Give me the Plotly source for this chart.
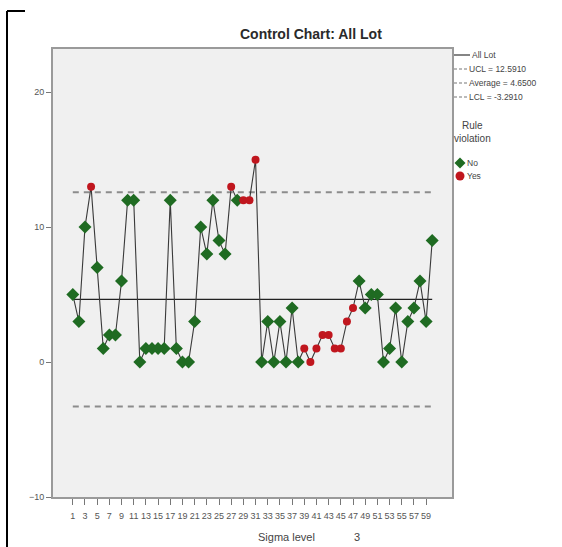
import plotly.graph_objects as go

# Lot measurements in sample order
lots = list(range(1, 61))
values = [5, 3, 10, 13, 7, 1, 2, 2, 6, 12,
          12, 0, 1, 1, 1, 1, 12, 1, 0, 0,
          3, 10, 8, 12, 9, 8, 13, 12, 12, 12,
          15, 0, 3, 0, 3, 0, 4, 0, 1, 0,
          1, 2, 2, 1, 1, 3, 4, 6, 4, 5,
          5, 0, 1, 4, 0, 3, 4, 6, 3, 9]
# 1 = a control rule was violated at this sample
violation = [0, 0, 0, 1, 0, 0, 0, 0, 0, 0,
             0, 0, 0, 0, 0, 0, 0, 0, 0, 0,
             0, 0, 0, 0, 0, 0, 1, 0, 1, 1,
             1, 0, 0, 0, 0, 0, 0, 0, 1, 1,
             1, 1, 1, 1, 1, 1, 1, 0, 0, 0,
             0, 0, 0, 0, 0, 0, 0, 0, 0, 0]
ucl = 12.591
average = 4.65
lcl = -3.291
x_ticks = list(range(1, 60, 2))
y_ticks = [-10, 0, 10, 20]
sigma_level = 3

GREEN = "#1f6b22"
RED = "#c0161e"
FONT = "Liberation Sans, Arial, sans-serif"
NARROW = "Liberation Sans Narrow, Liberation Sans, Arial, sans-serif"

W, H = 562, 547
L, R, T, B = 53, 452, 49, 497


def px(xp):
    return (xp - L) / (R - L)


def py(yp):
    return (B - yp) / (B - T)


fig = go.Figure()

# control limits and centre line span the sampled lots
fig.add_trace(go.Scatter(x=[lots[0], lots[-1]], y=[ucl, ucl], mode="lines",
                         line=dict(color="#8c8c8c", width=2, dash="6px,5px"),
                         hoverinfo="skip", showlegend=False))
fig.add_trace(go.Scatter(x=[lots[0], lots[-1]], y=[lcl, lcl], mode="lines",
                         line=dict(color="#8c8c8c", width=2, dash="6px,5px"),
                         hoverinfo="skip", showlegend=False))
fig.add_trace(go.Scatter(x=[lots[0], lots[-1]], y=[average, average], mode="lines",
                         line=dict(color="#222222", width=1.3),
                         hoverinfo="skip", showlegend=False))

# the series line
fig.add_trace(go.Scatter(x=lots, y=values, mode="lines",
                         line=dict(color="#3a3a3a", width=1.1),
                         showlegend=False))

# markers: green diamonds for no violation, red circles for violations
ok_x = [x for x, v in zip(lots, violation) if not v]
ok_y = [y for y, v in zip(values, violation) if not v]
bad_x = [x for x, v in zip(lots, violation) if v]
bad_y = [y for y, v in zip(values, violation) if v]
fig.add_trace(go.Scatter(x=ok_x, y=ok_y, mode="markers",
                         marker=dict(symbol="diamond", size=10, color=GREEN,
                                     line=dict(width=0)),
                         showlegend=False))
fig.add_trace(go.Scatter(x=bad_x, y=bad_y, mode="markers",
                         marker=dict(symbol="circle", size=8, color=RED,
                                     line=dict(width=0)),
                         showlegend=False))

shapes = []
annotations = []

# legend: line samples
leg_rows = [("All Lot", 55, "solid", "#333333"),
            (f"UCL = {ucl:.4f}", 69, "dash", "#777777"),
            (f"Average = {average:.4f}", 83, "dash", "#777777"),
            (f"LCL = {lcl:.4f}", 97, "dash", "#777777")]
for text, yy, dash, col in leg_rows:
    if dash == "solid":
        shapes.append(dict(type="line", xref="paper", yref="paper",
                           x0=px(454), x1=px(470), y0=py(yy), y1=py(yy),
                           line=dict(color=col, width=1.2)))
    else:
        shapes.append(dict(type="line", xref="paper", yref="paper",
                           x0=px(454), x1=px(467), y0=py(yy), y1=py(yy),
                           line=dict(color=col, width=1.2, dash="3px,2px")))
    annotations.append(dict(text=text, xref="paper", yref="paper",
                            x=px(470 if dash == "solid" else 467), y=py(yy),
                            xanchor="left", yanchor="middle", showarrow=False,
                            font=dict(family=NARROW, size=8.5, color="#444444")))

annotations.append(dict(text="Rule<br>violation", xref="paper", yref="paper",
                        x=px(472), y=py(132), xanchor="center", yanchor="middle",
                        showarrow=False, align="center",
                        font=dict(family=NARROW, size=10, color="#444444")))

# legend: rule violation markers
cx, cy, r = 460, 163, 5.5
shapes.append(dict(type="path", xref="paper", yref="paper",
                   path=(f"M {px(cx - r)} {py(cy)} L {px(cx)} {py(cy - r)} "
                         f"L {px(cx + r)} {py(cy)} L {px(cx)} {py(cy + r)} Z"),
                   fillcolor=GREEN, line=dict(width=0)))
cx, cy, r = 460, 176, 4.5
shapes.append(dict(type="circle", xref="paper", yref="paper",
                   x0=px(cx - r), x1=px(cx + r), y0=py(cy + r), y1=py(cy - r),
                   fillcolor=RED, line=dict(width=0)))
for text, yy in [("No", 163), ("Yes", 176)]:
    annotations.append(dict(text=text, xref="paper", yref="paper",
                            x=px(465), y=py(yy), xanchor="left", yanchor="middle",
                            showarrow=False,
                            font=dict(family=NARROW, size=8.5, color="#444444")))

# title and footer
annotations.append(dict(text="<b>Control Chart: All Lot</b>", xref="paper", yref="paper",
                        x=px(311), y=py(34), xanchor="center", yanchor="middle",
                        showarrow=False,
                        font=dict(family=FONT, size=14, color="#2a2a2a")))
annotations.append(dict(text="Sigma level", xref="paper", yref="paper",
                        x=px(286), y=py(537), xanchor="center", yanchor="middle",
                        showarrow=False,
                        font=dict(family=NARROW, size=11, color="#444444")))
annotations.append(dict(text=str(sigma_level), xref="paper", yref="paper",
                        x=px(357), y=py(537), xanchor="center", yanchor="middle",
                        showarrow=False,
                        font=dict(family=NARROW, size=11, color="#444444")))

# outer black frame pieces
shapes.append(dict(type="line", xref="paper", yref="paper",
                   x0=px(7), x1=px(7), y0=py(11), y1=py(547),
                   line=dict(color="black", width=2)))
shapes.append(dict(type="line", xref="paper", yref="paper",
                   x0=px(7), x1=px(25), y0=py(11), y1=py(11),
                   line=dict(color="black", width=2)))

fig.update_layout(
    width=W, height=H,
    margin=dict(l=L, r=W - R, t=T, b=H - B),
    paper_bgcolor="white",
    plot_bgcolor="#f0f0f0",
    font=dict(family=FONT, color="#444444"),
    showlegend=False,
    shapes=shapes,
    annotations=annotations,
    xaxis=dict(range=[-2.25, 63.25], tickmode="array", tickvals=x_ticks,
               ticktext=[str(t) for t in x_ticks], tickangle=0,
               ticks="outside", ticklen=6, tickwidth=1, tickcolor="#777777",
               ticklabelstandoff=3,
               showline=True, linecolor="#9a9a9a", linewidth=2, mirror=True,
               showgrid=False, zeroline=False,
               tickfont=dict(family=NARROW, size=9, color="#555555")),
    yaxis=dict(range=[-10, 23.2], tickmode="array", tickvals=y_ticks,
               ticks="outside", ticklen=5, tickwidth=1, tickcolor="#777777",
               showline=True, linecolor="#9a9a9a", linewidth=2, mirror=True,
               showgrid=False, zeroline=False,
               tickfont=dict(family=NARROW, size=9, color="#555555")),
)

fig.write_html("out.html")
